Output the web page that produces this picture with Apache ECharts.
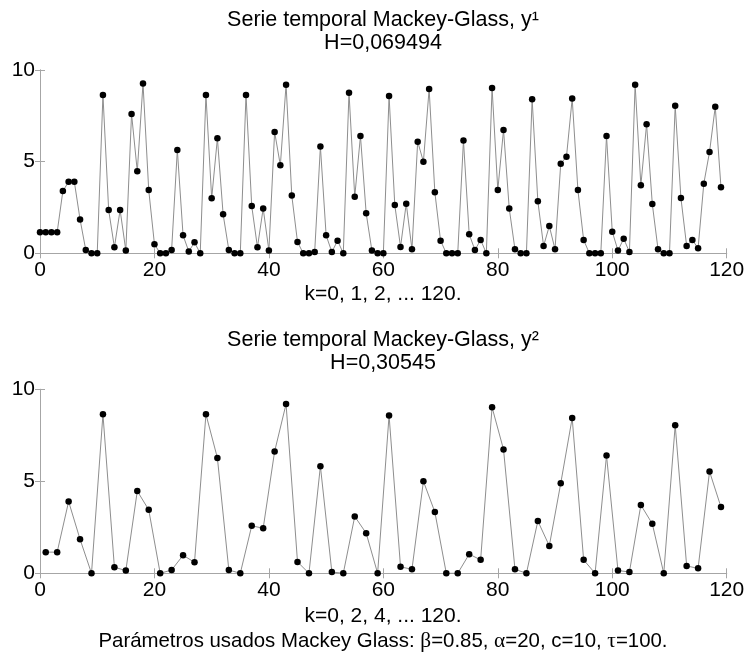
<!DOCTYPE html>
<html>
<head>
<meta charset="utf-8">
<script src="https://cdn.jsdelivr.net/npm/echarts@6/dist/echarts.min.js"></script>
<style>
html,body{margin:0;padding:0;background:#fff;}
#chart{width:748px;height:657px;}
</style>
</head>
<body>
<div id="chart"></div>
<script>
// Series y1: every sample k = 0 .. 119
var y1Values = [
  1.15, 1.15, 1.15, 1.15, 3.4, 3.9, 3.9, 1.85, 0.18, 0, 0, 8.64, 2.36, 0.33, 2.36, 0.15, 7.6, 4.47, 9.27, 3.45,
  0.5, 0, 0, 0.18, 5.64, 0.98, 0.1, 0.6, 0, 8.64, 3.0, 6.27, 2.13, 0.18, 0, 0, 8.64, 2.58, 0.33, 2.45,
  0.15, 6.62, 4.8, 9.2, 3.15, 0.62, 0, 0, 0.07, 5.82, 0.98, 0.07, 0.69, 0, 8.76, 3.09, 6.4, 2.18, 0.15, 0,
  0, 8.58, 2.64, 0.35, 2.71, 0.22, 6.09, 5.0, 8.96, 3.33, 0.69, 0, 0, 0, 6.15, 1.04, 0.18, 0.73, 0, 9.02,
  3.45, 6.73, 2.44, 0.22, 0, 0, 8.4, 2.84, 0.4, 1.49, 0.22, 4.89, 5.27, 8.44, 3.45, 0.73, 0, 0, 0, 6.4,
  1.18, 0.15, 0.8, 0.07, 9.2, 3.71, 7.04, 2.69, 0.22, 0, 0, 8.05, 3.02, 0.4, 0.73, 0.27, 3.8, 5.53, 8.0, 3.6
];
// Series y2: samples at k = 1, 3, 5 ... 119
var y2Values = [
  1.15, 1.15, 3.9, 1.85, 0, 8.64, 0.33, 0.15, 4.47, 3.45,
  0, 0.18, 0.98, 0.6, 8.64, 6.27, 0.18, 0, 2.58, 2.45,
  6.62, 9.2, 0.62, 0, 5.82, 0.07, 0, 3.09, 2.18, 0,
  8.58, 0.35, 0.22, 5.0, 3.33, 0, 0, 1.04, 0.73, 9.02,
  6.73, 0.22, 0, 2.84, 1.49, 4.89, 8.44, 0.73, 0, 6.4,
  0.15, 0.07, 3.71, 2.69, 0, 8.05, 0.4, 0.27, 5.53, 3.6
];
var xTicks = [0, 20, 40, 60, 80, 100, 120];
var yTicks = [0, 5, 10];

var title1a = 'Serie temporal Mackey-Glass, y\u00B9';
var title1b = 'H=0,069494';
var xName1 = 'k=0, 1, 2, ... 120.';
var title2a = 'Serie temporal Mackey-Glass, y\u00B2';
var title2b = 'H=0,30545';
var xName2 = 'k=0, 2, 4, ... 120.';
var paramsText = 'Parámetros usados Mackey Glass: {g|β}=0.85, {g|α}=20, c=10, {g|τ}=100.';

var FONT = '"Liberation Sans", Arial, Helvetica, sans-serif';
var frameColor = '#a6a6a6';
var lineColor = '#8e8e8e';

var series1 = y1Values.map(function (v, i) { return [i, v]; });
var series2 = y2Values.map(function (v, i) { return [2 * i + 1, v]; });

function xAxisDef(gridIndex, pos, showLabel) {
  return {
    type: 'value', gridIndex: gridIndex, position: pos,
    min: xTicks[0], max: xTicks[xTicks.length - 1], interval: xTicks[1] - xTicks[0],
    axisLine: { show: true, lineStyle: { color: frameColor, width: 1 } },
    axisTick: { show: true, inside: true, length: 5, lineStyle: { color: frameColor } },
    axisLabel: { show: showLabel, color: '#000', fontSize: 21, fontFamily: FONT, margin: 6 },
    splitLine: { show: false }
  };
}
function yAxisDef(gridIndex, pos, showLabel) {
  return {
    type: 'value', gridIndex: gridIndex, position: pos,
    min: yTicks[0], max: yTicks[yTicks.length - 1], interval: yTicks[1] - yTicks[0],
    axisLine: { show: true, lineStyle: { color: frameColor, width: 1 } },
    axisTick: { show: true, inside: true, length: 5, lineStyle: { color: frameColor } },
    axisLabel: { show: showLabel, color: '#000', fontSize: 21, fontFamily: FONT, margin: 5 },
    splitLine: { show: false }
  };
}
function txt(t, x, y, size) {
  return {
    type: 'text', x: x, y: y, silent: true,
    style: {
      text: t, fill: '#000', fontSize: size, fontFamily: FONT,
      align: 'center', verticalAlign: 'middle',
      rich: { g: { fontFamily: '"Liberation Serif", "Times New Roman", serif', fontSize: size + 1, fill: '#000' } }
    }
  };
}

var chart = echarts.init(document.getElementById('chart'), null, { renderer: 'canvas' });
var option = {
  animation: false,
  backgroundColor: '#fff',
  grid: [
    { left: 40, top: 70, width: 686.7, height: 183.3, containLabel: false },
    { left: 40, top: 389.3, width: 686.7, height: 184, containLabel: false }
  ],
  xAxis: [
    xAxisDef(0, 'bottom', true), xAxisDef(0, 'top', false),
    xAxisDef(1, 'bottom', true), xAxisDef(1, 'top', false)
  ],
  yAxis: [
    yAxisDef(0, 'left', true), yAxisDef(0, 'right', false),
    yAxisDef(1, 'left', true), yAxisDef(1, 'right', false)
  ],
  series: [
    {
      type: 'line', xAxisIndex: 0, yAxisIndex: 0, data: series1, clip: false,
      symbol: 'circle', symbolSize: 6.5, showAllSymbol: true,
      lineStyle: { color: lineColor, width: 1 },
      itemStyle: { color: '#000', borderColor: '#000', borderWidth: 0 }
    },
    {
      type: 'line', xAxisIndex: 2, yAxisIndex: 2, data: series2, clip: false,
      symbol: 'circle', symbolSize: 6.5, showAllSymbol: true,
      lineStyle: { color: lineColor, width: 1 },
      itemStyle: { color: '#000', borderColor: '#000', borderWidth: 0 }
    }
  ],
  graphic: [
    txt(title1a, 383, 20, 21.5),
    txt(title1b, 383, 43, 21.5),
    txt(xName1, 383, 294, 21),
    txt(title2a, 383, 340, 21.5),
    txt(title2b, 383, 363, 21.5),
    txt(xName2, 383, 616, 21),
    txt(paramsText, 383, 641, 20.4)
  ]
};
chart.setOption(option);
</script>
</body>
</html>
